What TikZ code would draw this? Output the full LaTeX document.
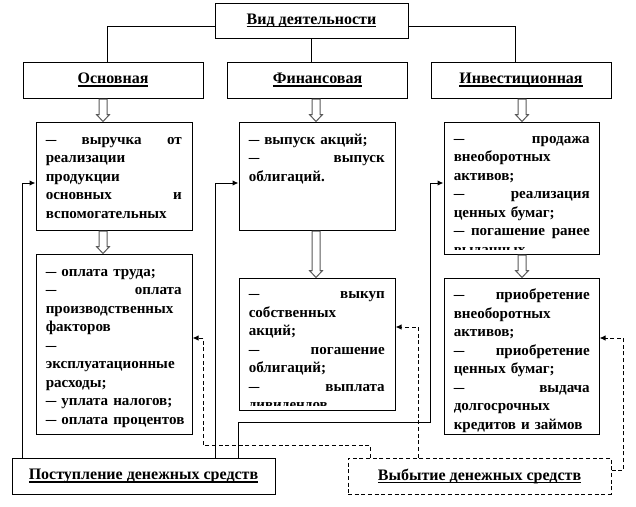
\documentclass[tikz,border=0pt]{standalone}
\usepackage{fontspec}
\setmainfont{Liberation Serif}
\usetikzlibrary{arrows.meta,calc}
\newcommand{\dsh}{\scalebox{0.7}[1]{—}}
\newcommand{\uln}[1]{\setbox0\hbox{#1}\rlap{\rule[-2.4pt]{\wd0}{1.1pt}}\box0}
\newcommand{\hollowdown}[3]{%
\path[hollow] let \p1=($(#1.south)+(#3,0)$), \p2=(#2.north) in
  (\x1-3pt,\y1-0.4pt) -- (\x1-3pt,\y2+5.25pt) -- (\x1-4.9pt,\y2+5.25pt) -- (\x1,\y2)
  -- (\x1+4.9pt,\y2+5.25pt) -- (\x1+3pt,\y2+5.25pt) -- (\x1+3pt,\y1-0.4pt) -- cycle;}

\begin{document}
\begin{tikzpicture}[x=0.75pt,y=-0.75pt,
  box/.style={draw,line width=0.75pt,inner sep=0pt},
  head/.style={box,font=\fontsize{12}{13.9}\selectfont\bfseries},
  body/.style={anchor=north west,inner sep=0pt,text width=102pt,align=left,
    font=\fontsize{11.3}{13.9}\selectfont\bfseries},
  inarrow/.style={line width=0.75pt,-{Latex[length=4.5pt,width=4pt]}},
  outarrow/.style={inarrow,dash pattern=on 3pt off 2pt},
  hollow/.style={draw=gray!70!black,fill=white,line width=0.75pt}]
\useasboundingbox (0,0) rectangle (636,507);

% headings
\node[head,minimum width=144.75pt,minimum height=26.25pt] (kind) at (311.5,20.5) {\uln{Вид деятельности}};
\node[head,minimum width=135pt,minimum height=27pt] (main) at (113,80) {\uln{Основная}};
\node[head,minimum width=135pt,minimum height=27pt] (fin) at (317.5,80) {\uln{Финансовая}};
\node[head,minimum width=135pt,minimum height=27pt] (invest) at (521,80) {\uln{Инвестиционная}};
\draw[line width=0.75pt] ($(kind.west)+(0,5.5)$) -| ($(main.north)+(-6,0)$);
\draw[line width=0.75pt] ($(kind.east)+(0,5.5)$) -| ($(invest.north)+(-6,0)$);
\draw[line width=0.75pt] (kind.south) -- (kind.south |- fin.north);

% boxes
\node[box,minimum width=117pt,minimum height=81pt] (sales) at (114,176) {};
\node[box,minimum width=117pt,minimum height=135pt] (costs) at (114,344) {};
\node[box,minimum width=117pt,minimum height=81pt] (issue) at (317,176) {};
\node[box,minimum width=117pt,minimum height=99pt] (buyback) at (317,344) {};
\node[box,minimum width=116.25pt,minimum height=99pt] (invin) at (521.5,188) {};
\node[box,minimum width=116.25pt,minimum height=117pt] (invout) at (521.5,356) {};

\node[body] (salestext) at ($(sales.north west)+(10,9.5)$)
  {\strut\dsh\hfill выручка\hfill от\\ реализации\\ продукции\\ основных\hfill и\\ вспомогательных};
\node[body] (coststext) at ($(costs.north west)+(10,9.5)$)
  {\strut\mbox{\dsh{} оплата труда;}\\ \dsh\hfill оплата\\ производственных\\ факторов\\ \dsh\\ эксплуатационные\\ расходы;\\ \mbox{\dsh{} уплата налогов;}\\ \mbox{\dsh{} оплата процентов}};
\node[body] (issuetext) at ($(issue.north west)+(10,9.5)$)
  {\strut\mbox{\dsh{} выпуск акций;}\\ \dsh\hfill выпуск\\ облигаций.};
\begin{scope}
\clip (buyback.north west) rectangle ($(buyback.south east)+(0,-5.5)$);
\node[body] (buybacktext) at ($(buyback.north west)+(10,8)$)
  {\strut\dsh\hfill выкуп\\ собственных\\ акций;\\ \dsh\hfill погашение\\ облигаций;\\ \dsh\hfill выплата\\ дивидендов};
\end{scope}
\begin{scope}
\clip (invin.north west) rectangle ($(invin.south east)+(0,-5.5)$);
\node[body] (invintext) at ($(invin.north west)+(10,8.5)$)
  {\strut\dsh\hfill продажа\\ внеоборотных\\ активов;\\ \dsh\hfill реализация\\ \mbox{ценных бумаг;}\\ \dsh\hfill погашение\hfill ранее\\ выданных кредитов};
\end{scope}
\node[body] (invouttext) at ($(invout.north west)+(10,9)$)
  {\strut\dsh\hfill приобретение\\ внеоборотных\\ активов;\\ \dsh\hfill приобретение\\ \mbox{ценных бумаг;}\\ \dsh\hfill выдача\\ долгосрочных\\ \mbox{кредитов и займов}};

\node[head,minimum width=197.25pt,minimum height=27pt] (cashin) at (143.5,476) {\uln{Поступление денежных средств}};
\node[head,dash pattern=on 3pt off 2pt,minimum width=197.25pt,minimum height=27pt] (cashout) at (479.5,476) {\uln{Выбытие денежных средств}};

% hollow arrows
\hollowdown{main}{sales}{-10}
\hollowdown{fin}{issue}{-1.5}
\hollowdown{invest}{invin}{1}
\hollowdown{sales}{costs}{-11}
\hollowdown{issue}{buyback}{-1}
\hollowdown{invin}{invout}{0.5}

% cash flows
\draw[inarrow] ($(cashin.north west)+(11,0)$) |- ($(sales.west)+(0,7)$);
\draw[inarrow] ($(cashin.north west)+(204,0)$) |- ($(issue.west)+(0,7)$);
\draw[inarrow] ($(cashin.north west)+(227,0)$) -- ++(0,-35) -| ($(invin.west)+(-13,-5)$) -- ($(invin.west)+(0,-5)$);
\draw[outarrow] ($(cashout.north west)+(23,0)$) -- ++(0,-12) -| ($(costs.east)+(11,-6)$) -- ($(costs.east)+(0,-6)$);
\draw[outarrow] ($(cashout.north west)+(71,0)$) |- ($(buyback.east)+(0,-17)$);
\draw[outarrow] ($(cashout.east)+(0,-6)$) -- ++(12,0) |- ($(invout.east)+(0,-18)$);
\end{tikzpicture}
\end{document}
